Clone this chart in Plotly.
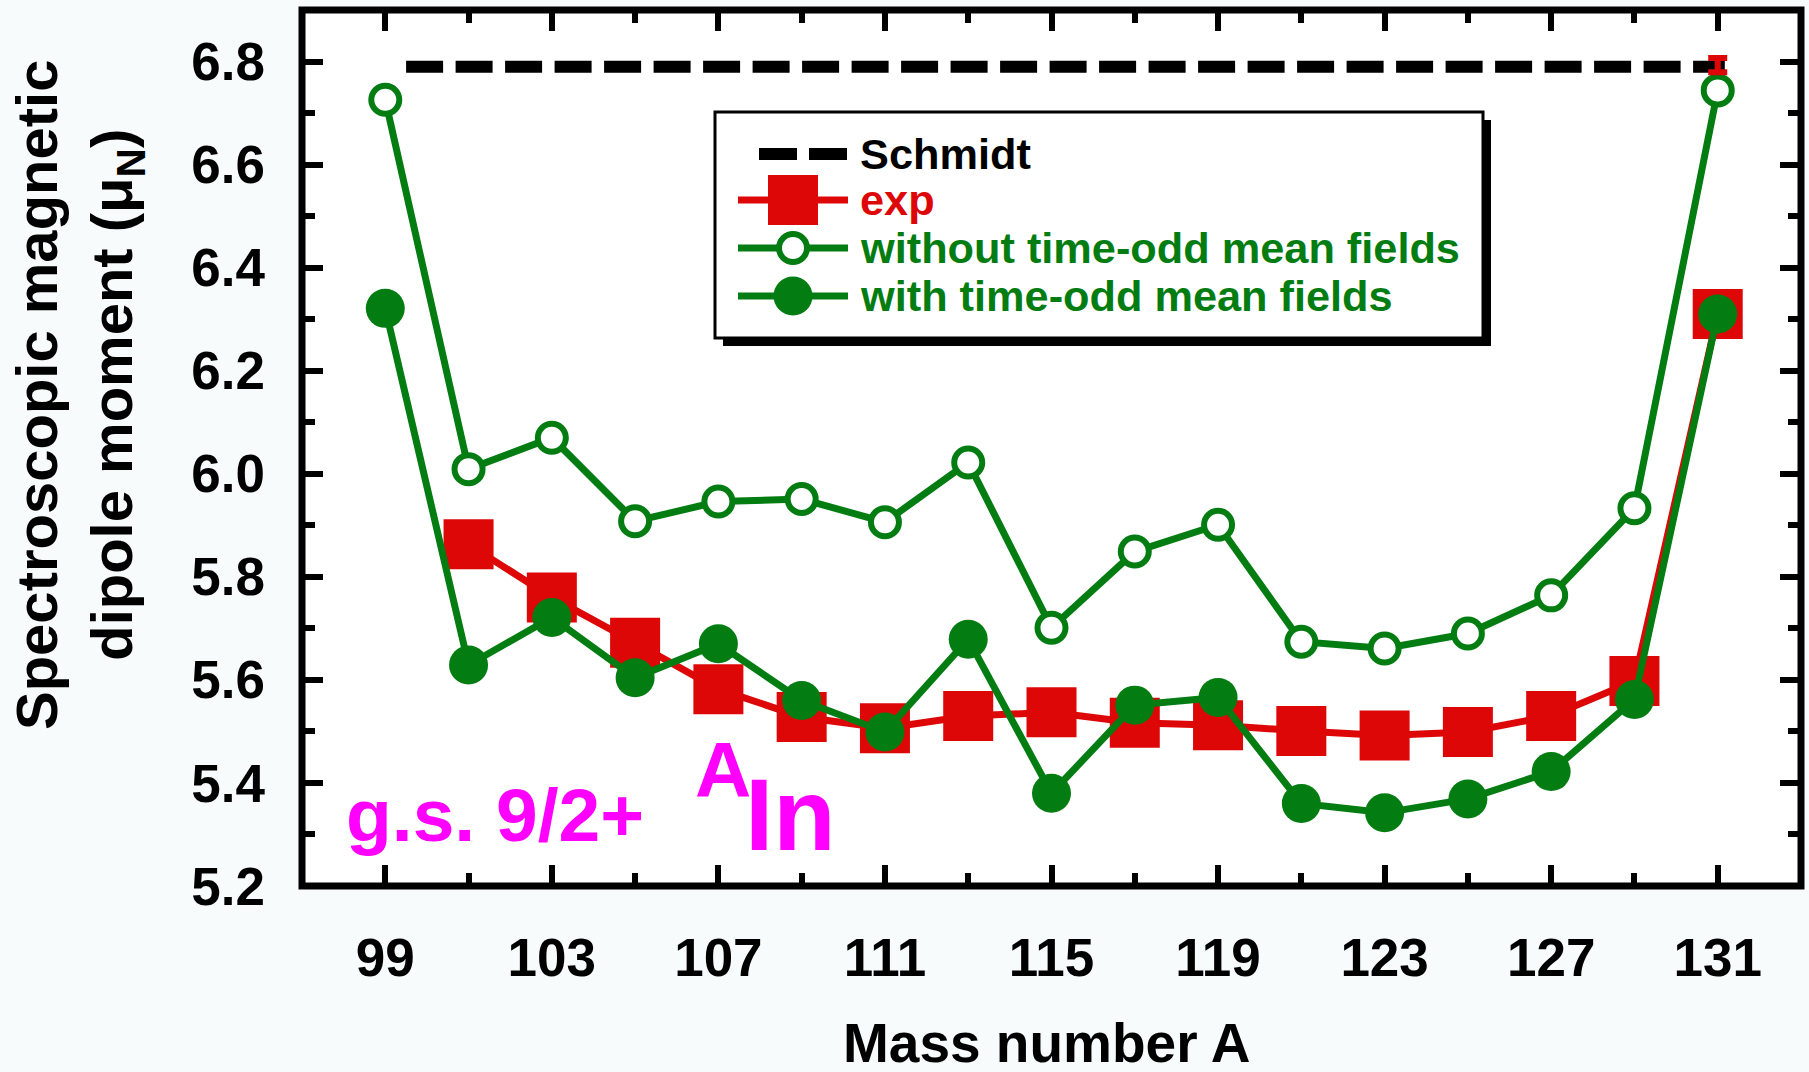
import plotly.graph_objects as go

# ---------------- data ----------------
mass_A = [99, 101, 103, 105, 107, 109, 111, 113, 115, 117, 119, 121, 123, 125, 127, 129, 131]
without_todd = [6.726, 6.009, 6.070, 5.908, 5.946, 5.951, 5.906, 6.022, 5.701, 5.849,
                5.901, 5.674, 5.661, 5.690, 5.764, 5.933, 6.744]
with_todd = [6.321, 5.629, 5.721, 5.604, 5.670, 5.560, 5.499, 5.679, 5.380, 5.551,
             5.566, 5.360, 5.342, 5.369, 5.422, 5.562, 6.310]
exp_A = [101, 103, 105, 107, 109, 111, 113, 115, 117, 119, 121, 123, 125, 127, 129, 131]
exp_mu = [5.863, 5.760, 5.672, 5.582, 5.528, 5.506, 5.530, 5.537, 5.517, 5.512,
          5.501, 5.492, 5.499, 5.530, 5.598, 6.310]
exp_err_A = [131]
exp_err_mu = [6.793]
exp_err_val = [0.014]
schmidt_A = [99.5, 131.17]
schmidt_mu = [6.79, 6.79]

x_ticks = [99, 103, 107, 111, 115, 119, 123, 127, 131]
y_ticks = [5.2, 5.4, 5.6, 5.8, 6.0, 6.2, 6.4, 6.6, 6.8]

legend_labels = ["Schmidt", "exp", "without time-odd mean fields", "with time-odd mean fields"]

# ---------------- style ----------------
RED = "#DD0707"
GREEN = "#037D12"
MAG = "#FF00FF"
FONT = "Liberation Sans, Arial, sans-serif"
LW = 7

W, H = 1809, 1072
ML, MR, MT, MB = 302, 8, 10, 186
PW, PH = W - ML - MR, H - MT - MB


def px_x(p):
    return (p - ML) / PW


def px_y(p):
    return 1 - (p - MT) / PH


fig = go.Figure()

fig.add_trace(go.Scatter(x=exp_A, y=exp_mu, mode="lines+markers", name="exp",
                         line=dict(color=RED, width=LW),
                         marker=dict(symbol="square", size=50, color=RED, line=dict(width=0))))
fig.add_trace(go.Scatter(x=mass_A, y=without_todd, mode="lines+markers",
                         name="without time-odd mean fields",
                         line=dict(color=GREEN, width=LW),
                         marker=dict(symbol="circle", size=28, color="white",
                                     line=dict(color=GREEN, width=6))))
fig.add_trace(go.Scatter(x=mass_A, y=with_todd, mode="lines+markers",
                         name="with time-odd mean fields",
                         line=dict(color=GREEN, width=LW),
                         marker=dict(symbol="circle", size=39, color=GREEN, line=dict(width=0))))
fig.add_trace(go.Scatter(x=schmidt_A, y=schmidt_mu, mode="lines", name="Schmidt",
                         line=dict(color="black", width=12, dash="37px,12.5px")))
fig.add_trace(go.Scatter(x=exp_err_A, y=exp_err_mu, mode="markers", name="exp err",
                         marker=dict(size=1, color="rgba(0,0,0,0)"),
                         error_y=dict(type="data", array=exp_err_val, visible=True,
                                      color=RED, thickness=6, width=9.5)))

axis_common = dict(
    showgrid=False, zeroline=False, showline=False,
    ticks="inside", mirror="ticks", tickcolor="black", tickwidth=6,
    tickfont=dict(family=FONT, size=53, color="black", weight="bold"),
)

fig.update_xaxes(range=[97, 133], tickvals=x_ticks, ticktext=[str(v) for v in x_ticks],
                 ticklen=21, ticklabelstandoff=36,
                 minor=dict(dtick=2, tick0=97, ticks="inside", ticklen=13, tickwidth=6,
                            tickcolor="black"),
                 **axis_common)
fig.update_yaxes(range=[5.2, 6.9], tickvals=y_ticks, ticktext=["%.1f" % v for v in y_ticks],
                 ticklen=21, ticklabelstandoff=36,
                 minor=dict(dtick=0.1, tick0=5.2, ticks="inside", ticklen=13, tickwidth=6,
                            tickcolor="black"),
                 **axis_common)

shapes = []
annotations = []

# legend box with shadow
LX0, LX1, LY0, LY1 = 715, 1483, 112, 338
shapes.append(dict(type="rect", xref="paper", yref="paper",
                   x0=px_x(LX0 + 8), x1=px_x(LX1 + 8), y0=px_y(LY0 + 8), y1=px_y(LY1 + 8),
                   fillcolor="black", line=dict(width=0), layer="above"))
shapes.append(dict(type="rect", xref="paper", yref="paper",
                   x0=px_x(LX0), x1=px_x(LX1), y0=px_y(LY0), y1=px_y(LY1),
                   fillcolor="white", line=dict(color="black", width=3), layer="above"))

rows = [154, 200, 248, 296]
sym_x0, sym_x1, sym_c, text_x = 738, 848, 793, 858
label_colors = ["black", RED, GREEN, GREEN]

# Schmidt sample
shapes.append(dict(type="line", xref="paper", yref="paper",
                   x0=px_x(759), x1=px_x(847), y0=px_y(rows[0]), y1=px_y(rows[0]),
                   line=dict(color="black", width=12, dash="38px,12px"), layer="above"))
# exp sample
shapes.append(dict(type="line", xref="paper", yref="paper",
                   x0=px_x(sym_x0), x1=px_x(sym_x1), y0=px_y(rows[1]), y1=px_y(rows[1]),
                   line=dict(color=RED, width=LW), layer="above"))
shapes.append(dict(type="rect", xref="paper", yref="paper", xsizemode="pixel", ysizemode="pixel",
                   xanchor=px_x(sym_c), yanchor=px_y(rows[1]), x0=-25, x1=25, y0=-25, y1=25,
                   fillcolor=RED, line=dict(width=0), layer="above"))
# without sample
shapes.append(dict(type="line", xref="paper", yref="paper",
                   x0=px_x(sym_x0), x1=px_x(sym_x1), y0=px_y(rows[2]), y1=px_y(rows[2]),
                   line=dict(color=GREEN, width=LW), layer="above"))
shapes.append(dict(type="circle", xref="paper", yref="paper", xsizemode="pixel", ysizemode="pixel",
                   xanchor=px_x(sym_c), yanchor=px_y(rows[2]), x0=-14, x1=14, y0=-14, y1=14,
                   fillcolor="white", line=dict(color=GREEN, width=6), layer="above"))
# with sample
shapes.append(dict(type="line", xref="paper", yref="paper",
                   x0=px_x(sym_x0), x1=px_x(sym_x1), y0=px_y(rows[3]), y1=px_y(rows[3]),
                   line=dict(color=GREEN, width=LW), layer="above"))
shapes.append(dict(type="circle", xref="paper", yref="paper", xsizemode="pixel", ysizemode="pixel",
                   xanchor=px_x(sym_c), yanchor=px_y(rows[3]), x0=-19.5, x1=19.5, y0=-19.5, y1=19.5,
                   fillcolor=GREEN, line=dict(width=0), layer="above"))

for lab, col, ry in zip(legend_labels, label_colors, rows):
    annotations.append(dict(text=lab, xref="paper", yref="paper", x=px_x(text_x), y=px_y(ry),
                            xanchor="left", yanchor="middle", showarrow=False,
                            font=dict(family=FONT, size=43.3, color=col, weight="bold")))

# plot frame
shapes.append(dict(type="rect", xref="paper", yref="paper", x0=0, x1=1, y0=0, y1=1,
                   line=dict(color="black", width=7), layer="above"))

# axis titles
annotations.append(dict(text="Mass number A", xref="paper", yref="paper",
                        x=px_x(1047), y=px_y(1043), xanchor="center", yanchor="middle",
                        showarrow=False,
                        font=dict(family=FONT, size=55, color="black", weight="bold")))
annotations.append(dict(text="Spectroscopic magnetic<br>dipole moment (μ<sub>N</sub>)",
                        xref="paper", yref="paper", x=px_x(79), y=px_y(395),
                        xanchor="center", yanchor="middle", textangle=-90, showarrow=False,
                        align="center",
                        font=dict(family=FONT, size=58, color="black", weight="bold")))

# in-plot labels
annotations.append(dict(text="g.s. 9/2+", xref="paper", yref="paper",
                        x=px_x(344), y=px_y(815), xanchor="left", yanchor="middle",
                        showarrow=False,
                        font=dict(family=FONT, size=75, color=MAG, weight="bold")))
annotations.append(dict(text="A", xref="paper", yref="paper",
                        x=px_x(693), y=px_y(770), xanchor="left", yanchor="middle",
                        showarrow=False,
                        font=dict(family=FONT, size=78, color=MAG, weight="bold")))
annotations.append(dict(text="In", xref="paper", yref="paper",
                        x=px_x(743), y=px_y(815), xanchor="left", yanchor="middle",
                        showarrow=False,
                        font=dict(family=FONT, size=102, color=MAG, weight="bold")))

fig.update_layout(
    width=W, height=H,
    margin=dict(l=ML, r=MR, t=MT, b=MB, pad=0),
    paper_bgcolor="#F7FBFC", plot_bgcolor="white",
    showlegend=False,
    shapes=shapes, annotations=annotations,
    font=dict(family=FONT, color="black"),
)

fig.write_html("out.html")
